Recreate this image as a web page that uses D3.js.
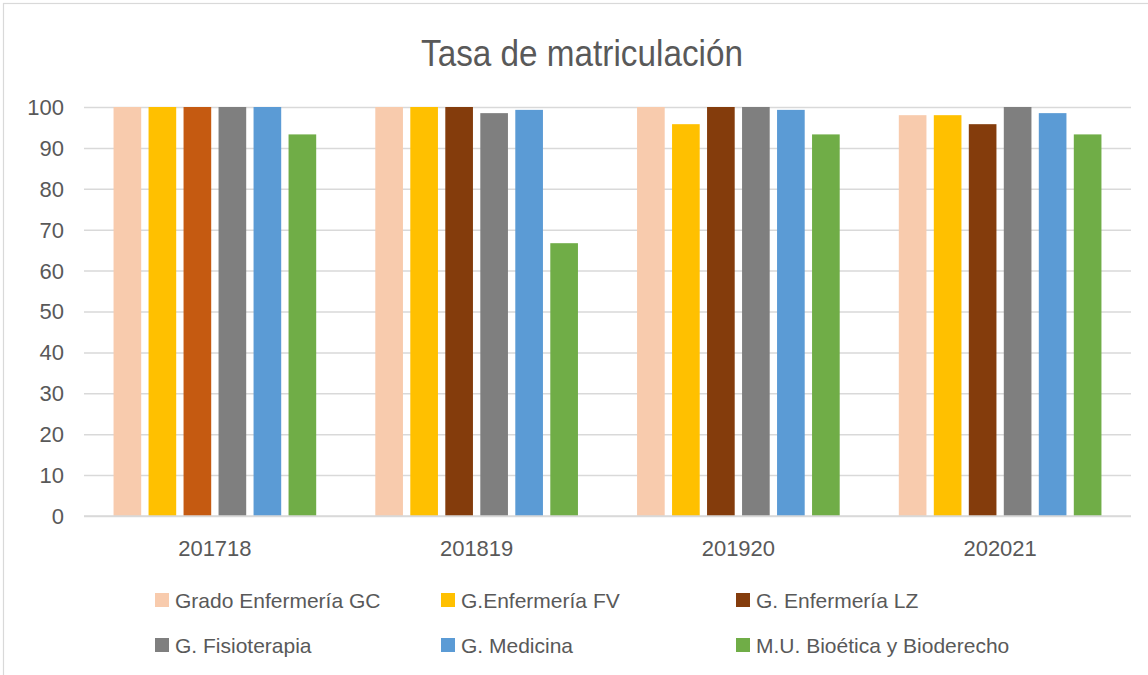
<!DOCTYPE html>
<html>
<head>
<meta charset="utf-8">
<script src="https://cdn.jsdelivr.net/npm/d3@7"></script>
<style>
  body { margin: 0; background: #fff; }
  text { font-family: "Liberation Sans", Arial, sans-serif; fill: #595959; }
</style>
</head>
<body>
<svg id="chart" width="1148" height="675"></svg>
<script>
var years = ["201718", "201819", "201920", "202021"];
var seriesNames = ["Grado Enfermería GC", "G.Enfermería FV", "G. Enfermería LZ",
                   "G. Fisioterapia", "G. Medicina", "M.U. Bioética y Bioderecho"];
var seriesColors = ["#F8CBAD", "#FFC000", "#843C0C", "#7F7F7F", "#5B9BD5", "#70AD47"];
var gcValues = [100, 100, 100, 98];
var fvValues = [100, 100, 95.8, 98];
var lzValues = [100, 100, 100, 95.8];
var fisioValues = [100, 98.5, 100, 100];
var medValues = [100, 99.3, 99.3, 98.5];
var bioValues = [93.3, 66.7, 93.3, 93.3];
// one point in the source has its own fill (LZ, 201718)
var pointColors = [{ series: 2, year: 0, color: "#C55A11" }];
var yTicks = [0, 10, 20, 30, 40, 50, 60, 70, 80, 90, 100];

var allValues = [gcValues, fvValues, lzValues, fisioValues, medValues, bioValues];

var svg = d3.select('#chart');

// chart frame
svg.append('rect')
    .attr('x', 3.5).attr('y', 3.5)
    .attr('width', 1160).attr('height', 690)
    .attr('fill', 'none').attr('stroke', '#d9d9d9').attr('stroke-width', 1.2);

var plotLeft = 84, plotRight = 1131, plotTop = 107, plotBottom = 516;

var x0 = d3.scaleBand().domain(years).range([plotLeft, plotRight]).padding(0);
var groupW = 210;
var x1 = d3.scaleBand().domain(d3.range(seriesNames.length))
    .range([(x0.bandwidth() - groupW) / 2, (x0.bandwidth() + groupW) / 2])
    .paddingInner(0.21).paddingOuter(0.105);
var y = d3.scaleLinear().domain([0, 100]).range([plotBottom, plotTop]);

// title
svg.append('text')
    .attr('transform', 'translate(582,66) scale(0.9,1)')
    .attr('text-anchor', 'middle')
    .attr('font-size', 37)
    .text('Tasa de matriculación');

// gridlines
svg.append('g')
    .attr('transform', 'translate(' + plotLeft + ',0)')
    .call(d3.axisLeft(y).tickValues(yTicks).tickSize(-(plotRight - plotLeft)).tickFormat(''))
    .call(function(g) {
        g.select('.domain').remove();
        g.selectAll('line').attr('stroke', '#d9d9d9').attr('stroke-width', 1.5);
    });

// y labels
svg.append('g')
    .selectAll('text')
    .data(yTicks).enter()
    .append('text')
    .attr('x', 64)
    .attr('y', function(d) { return y(d); })
    .attr('dy', '0.36em')
    .attr('text-anchor', 'end')
    .attr('font-size', 22)
    .text(function(d) { return d; });

// bars
var rows = [];
years.forEach(function(yr, yi) {
    allValues.forEach(function(vals, si) {
        var c = seriesColors[si];
        pointColors.forEach(function(p) {
            if (p.series === si && p.year === yi) c = p.color;
        });
        rows.push({ year: yr, s: si, v: vals[yi], color: c });
    });
});

svg.append('g')
    .selectAll('rect')
    .data(rows).enter()
    .append('rect')
    .attr('x', function(d) { return x0(d.year) + x1(d.s); })
    .attr('y', function(d) { return y(d.v); })
    .attr('width', x1.bandwidth())
    .attr('height', function(d) { return plotBottom - y(d.v); })
    .attr('fill', function(d) { return d.color; });

// baseline
svg.append('line')
    .attr('x1', plotLeft).attr('x2', plotRight)
    .attr('y1', plotBottom).attr('y2', plotBottom)
    .attr('stroke', '#d9d9d9').attr('stroke-width', 1.5);

// x labels
svg.append('g')
    .selectAll('text')
    .data(years).enter()
    .append('text')
    .attr('x', function(d) { return x0(d) + x0.bandwidth() / 2; })
    .attr('y', 556)
    .attr('text-anchor', 'middle')
    .attr('font-size', 22)
    .text(function(d) { return d; });

// legend
var legendX = [155, 441, 736], legendY = [600, 645];
var legend = svg.append('g')
    .selectAll('g')
    .data(seriesNames).enter()
    .append('g')
    .attr('transform', function(d, i) {
        return 'translate(' + legendX[i % 3] + ',' + legendY[Math.floor(i / 3)] + ')';
    });
legend.append('rect')
    .attr('x', 0).attr('y', -7)
    .attr('width', 14).attr('height', 14)
    .attr('fill', function(d, i) { return seriesColors[i]; });
legend.append('text')
    .attr('x', 20)
    .attr('dy', '0.36em')
    .attr('font-size', 21)
    .text(function(d) { return d; });
</script>
</body>
</html>
